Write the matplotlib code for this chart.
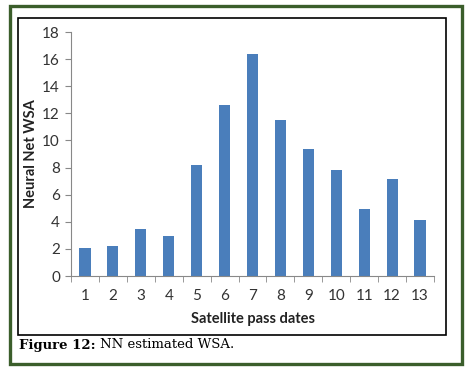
import matplotlib
matplotlib.use('Agg')
import matplotlib.pyplot as plt
from matplotlib.patches import Rectangle

# === Dados ===
datas = [1, 2, 3, 4, 5, 6, 7, 8, 9, 10, 11, 12, 13]
wsa = [2.1, 2.2, 3.45, 2.95, 8.2, 12.6, 16.4, 11.5, 9.4, 7.8, 4.95, 7.15, 4.1]
yticks = [0, 2, 4, 6, 8, 10, 12, 14, 16, 18]

fig = plt.figure(figsize=(4.69, 3.71), dpi=100)
fig.patch.set_facecolor('white')

W, H = 469, 371

# moldura verde externa e caixa preta interna
fig.patches.append(Rectangle((9.5 / W, 1 - 364 / H), 452 / W, 358 / H, transform=fig.transFigure,
                             fill=False, edgecolor='#3b5e2b', linewidth=2.4))
fig.patches.append(Rectangle((18 / W, 1 - 334.5 / H), 428 / W, 316.5 / H, transform=fig.transFigure,
                             fill=False, edgecolor='black', linewidth=1.2))

ax = fig.add_axes([71 / W, 1 - 276 / H, (434 - 71) / W, (276 - 32) / H])
ax.bar(datas, wsa, width=0.4, color='#4a7ebb')

ax.set_xlim(0.5, 13.5)
ax.set_ylim(0, 18)
ax.set_yticks(yticks)
ax.set_xticks(datas)
ax.set_xticks([d + 0.5 for d in [0] + datas], minor=True)
ax.tick_params(axis='x', which='major', length=0, pad=9, labelsize=11, labelcolor='#333333')
ax.tick_params(axis='x', which='minor', length=4, color='#888888', direction='out')
ax.tick_params(axis='y', length=4, color='#888888', labelsize=11, labelcolor='#333333', pad=4)
for lab in ax.get_xticklabels() + ax.get_yticklabels():
    lab.set_family('Lato')

for s in ['top', 'right']:
    ax.spines[s].set_visible(False)
ax.spines['left'].set_color('#888888')
ax.spines['bottom'].set_color('#888888')

ax.set_xlabel('Satellite pass dates', family='Lato', fontweight='bold', fontsize=10.5,
              color='#222222', labelpad=7)
ax.set_ylabel('Neural Net WSA', family='Lato', fontweight='bold', fontsize=10.5,
              color='#222222', va='center')
ax.yaxis.set_label_coords((31 - 71) / 363, 0.5)

# legenda da figura
t1 = fig.text(19 / W, 1 - 345 / H, 'Figure 12:', family='DejaVu Serif', fontweight='bold',
              fontsize=9.5, va='center', ha='left')
fig.canvas.draw()
bb = t1.get_window_extent()
fig.text((bb.x1 + 4) / W, 1 - 345 / H, 'NN estimated WSA.', family='DejaVu Serif',
         fontsize=9.5, va='center', ha='left')

plt.savefig('out.png', dpi=100)
plt.close()
